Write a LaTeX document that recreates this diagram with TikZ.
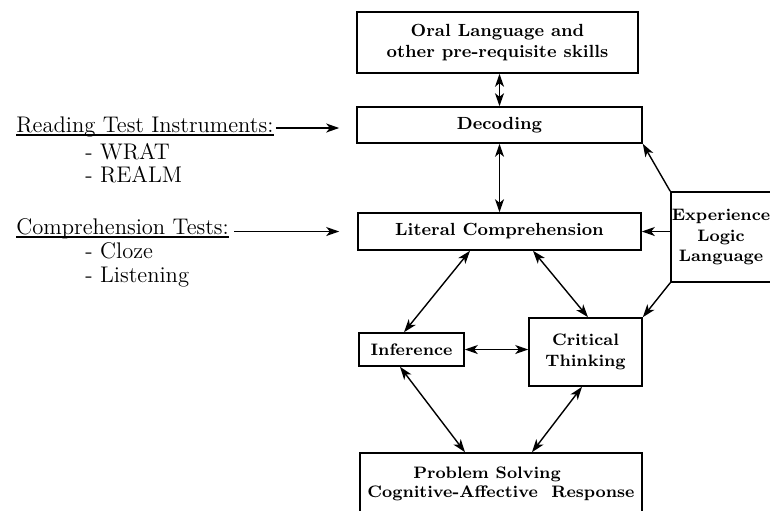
\documentclass[tikz,border=0pt]{standalone}
\usetikzlibrary{arrows.meta}

\begin{document}
\begin{tikzpicture}[x = 0.5pt, y = -0.5pt]
\tikzstyle{boxStyle} = [draw, line width = 0.8pt, align = center, inner sep = 0pt, font = \fontsize{8.8}{10.6}\selectfont\bfseries]
\tikzstyle{smallBoxStyle} = [boxStyle, font = \fontsize{8.3}{10.4}\selectfont\bfseries]
\tikzstyle{testStyle} = [anchor = base west, inner sep = 0pt, font = \fontsize{11.3}{13.5}\selectfont]
\tikzstyle{underlineStyle} = [line width = 0.6pt]
\tikzstyle{linkStyle} = [line width = 0.7pt, -{Stealth[length = 6.5pt, width = 4.5pt, inset = 1.8pt]}]
\tikzstyle{bothStyle} = [linkStyle, {Stealth[length = 6.5pt, width = 4.5pt, inset = 1.8pt]}-{Stealth[length = 6.5pt, width = 4.5pt, inset = 1.8pt]}]
\useasboundingbox (0,0) rectangle (770,510);
% boxes of the model
\node[boxStyle, minimum width = 140.5pt, minimum height = 30.5pt] (oral) at (497.5, 42.5) {Oral Language and\\other pre-requisite skills};
\node[boxStyle, minimum width = 142.5pt, minimum height = 18pt] (dec) at (499.5, 125) {Decoding};
\node[boxStyle, minimum width = 141.5pt, minimum height = 18.5pt] (lit) at (499.5, 231.5) {Literal Comprehension};
\node[smallBoxStyle, minimum width = 52.5pt, minimum height = 16.5pt] (inf) at (411.5, 349.5) {Inference};
\node[smallBoxStyle, minimum width = 56.5pt, minimum height = 34pt] (crit) at (585.5, 352) {Critical\\Thinking};
\node[smallBoxStyle, minimum width = 141pt, minimum height = 31pt, font = \fontsize{8.3}{9.4}\selectfont\bfseries] (prob) at (501, 484) {Problem Solving\hspace*{14pt}\\Cognitive-Affective \ Response};
\node[smallBoxStyle, minimum width = 50pt, minimum height = 45pt] (exp) at (721, 237) {Experience\\Logic\\Language};
% tests on the left
\node[testStyle] (rti) at (16, 132) {Reading Test Instruments:};
\node[testStyle] (wrat) at (85, 159) {- WRAT};
\node[testStyle] (realm) at (85, 182) {- REALM};
\node[testStyle] (ct) at (16, 234) {Comprehension Tests:};
\node[testStyle] (cloze) at (85, 258) {- Cloze};
\node[testStyle] (listen) at (85, 282) {- Listening};
\draw[underlineStyle] ([yshift = -1.5pt]rti.base west) -- ([yshift = -1.5pt]rti.base east);
\draw[underlineStyle] ([yshift = -1.5pt]ct.base west) -- ([yshift = -1.5pt]ct.base east);
% links
\draw[linkStyle, shorten < = 1pt, shorten > = 8.5pt] ([yshift = 2pt]rti.base east) -- ([yshift = 2pt]rti.base east -| dec.west);
\draw[linkStyle, shorten < = 2.5pt, shorten > = 9pt] (ct.base east |- lit.west) -- (lit.west);
\draw[bothStyle] (dec.north |- oral.south) -- (dec.north);
\draw[bothStyle] (dec) -- (lit);
\draw[linkStyle] (exp.north west) -- (dec.south east);
\draw[linkStyle] (exp.west |- lit.east) -- (lit.east);
\draw[linkStyle] (exp.south west) -- (crit.north east);
\draw[bothStyle] ([xshift = -14.75pt]lit.south) -- ([xshift = -3.75pt]inf.north);
\draw[bothStyle] ([xshift = 16.75pt]lit.south) -- ([xshift = 1.25pt]crit.north);
\draw[bothStyle] (inf.east) -- (inf.east -| crit.west);
\draw[bothStyle] ([xshift = -5.75pt]inf.south) -- ([xshift = -18pt]prob.north);
\draw[bothStyle] ([xshift = -1.75pt]crit.south) -- ([xshift = 15.5pt]prob.north);
\end{tikzpicture}
\end{document}
